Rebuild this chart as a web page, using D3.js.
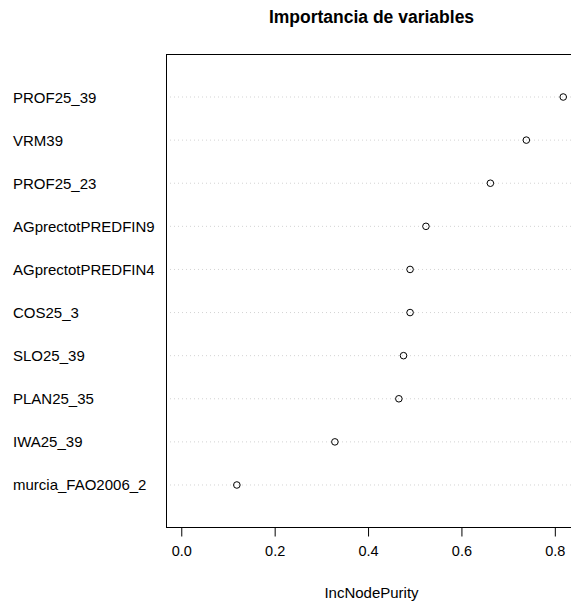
<!DOCTYPE html>
<html>
<head>
<meta charset="utf-8">
<script src="https://cdn.jsdelivr.net/npm/d3@7"></script>
<style>
  body { margin: 0; background: #fff; }
  svg { display: block; }
  text { font-family: "Liberation Sans", Arial, Helvetica, sans-serif; fill: #000; }
</style>
</head>
<body>
<script>
// Data (top to bottom as displayed)
const variables = ["PROF25_39", "VRM39", "PROF25_23", "AGprectotPREDFIN9", "AGprectotPREDFIN4",
                   "COS25_3", "SLO25_39", "PLAN25_35", "IWA25_39", "murcia_FAO2006_2"];
const importance = [0.818, 0.739, 0.662, 0.524, 0.490, 0.490, 0.476, 0.466, 0.329, 0.119];
const xTicks = [0.0, 0.2, 0.4, 0.6, 0.8];
const titleText = "Importancia de variables";
const xLabel = "IncNodePurity";

const W = 571, H = 605;
const plot = { left: 166, top: 54, bottom: 527 };

const svg = d3.select("body").append("svg").attr("width", W).attr("height", H);

const maxV = d3.max(importance);
const xmin = 0;
const pad = 0.04 * (maxV - xmin);
const x = d3.scaleLinear().domain([xmin - pad, maxV + pad]).range([plot.left, 166 + (578.5 - 166)]);

const n = variables.length;
// dotchart positions: index 1 at bottom, n at top
const y = d3.scaleLinear().domain([0, n + 1]).range([528.1, 53.9]);
const rowY = (i) => y(n - i);

const right = x.range()[1];

// dotted guide lines
svg.append("g").selectAll("line").data(variables).join("line")
  .attr("x1", plot.left).attr("x2", right)
  .attr("y1", (d, i) => rowY(i)).attr("y2", (d, i) => rowY(i))
  .attr("stroke", "#d3d3d3").attr("stroke-width", 1).attr("stroke-dasharray", "1,3");

// points
svg.append("g").selectAll("circle").data(importance).join("circle")
  .attr("cx", d => x(d)).attr("cy", (d, i) => rowY(i)).attr("r", 3.3)
  .attr("fill", "none").attr("stroke", "#000").attr("stroke-width", 1);

// box
svg.append("rect")
  .attr("x", plot.left + 0.5).attr("y", plot.top + 0.5)
  .attr("width", right - plot.left).attr("height", plot.bottom - plot.top)
  .attr("fill", "none").attr("stroke", "#000").attr("stroke-width", 1);

// y labels
svg.append("g").selectAll("text").data(variables).join("text")
  .attr("x", 13).attr("y", (d, i) => rowY(i) + 5.5)
  .attr("font-size", "15px").text(d => d);

// x axis
const xAxis = d3.axisBottom(x).tickValues(xTicks).tickFormat(d3.format(".1f")).tickSize(9).tickPadding(9);
const gx = svg.append("g").attr("transform", `translate(0,${plot.bottom + 0.5})`).call(xAxis);
gx.select(".domain").remove();
gx.selectAll(".tick line").attr("stroke", "#000");
gx.selectAll(".tick text").attr("font-size", "14.5px").attr("font-family", "Liberation Sans, Arial, sans-serif").attr("fill", "#000");

// x label
svg.append("text").attr("x", (plot.left + W) / 2 + 3).attr("y", 598)
  .attr("text-anchor", "middle").attr("font-size", "15px").text(xLabel);

// title
svg.append("text").attr("x", (plot.left + W) / 2 + 3).attr("y", 23)
  .attr("text-anchor", "middle").attr("font-size", "17.5px").attr("font-weight", "bold").text(titleText);
</script>
</body>
</html>
